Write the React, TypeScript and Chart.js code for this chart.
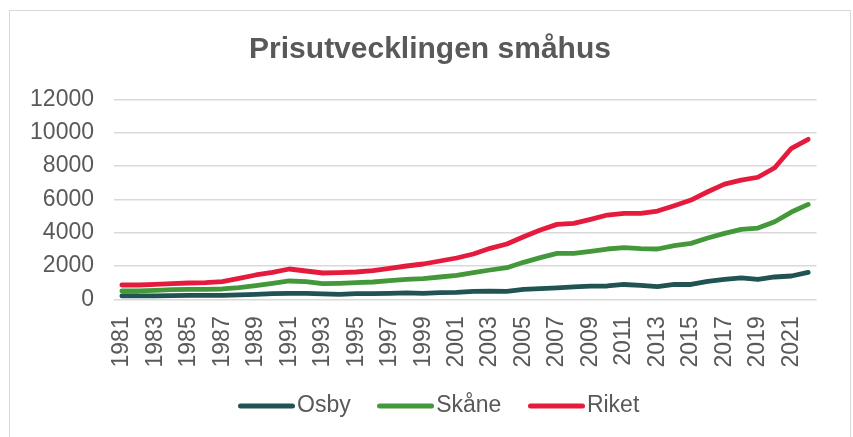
import React, { useEffect, useRef } from "react";
import { Chart, registerables } from "chart.js";

Chart.register(...registerables);

const years: string[] = [
  "1981","1982","1983","1984","1985","1986","1987","1988","1989","1990",
  "1991","1992","1993","1994","1995","1996","1997","1998","1999","2000",
  "2001","2002","2003","2004","2005","2006","2007","2008","2009","2010",
  "2011","2012","2013","2014","2015","2016","2017","2018","2019","2020",
  "2021","2022",
];

const osby: number[] = [
  200, 200, 210, 220, 230, 240, 230, 260, 300, 340,
  360, 360, 320, 300, 340, 340, 360, 380, 360, 400,
  420, 480, 490, 470, 600, 640, 690, 750, 790, 800,
  890, 840, 760, 900, 890, 1080, 1200, 1290, 1190, 1340,
  1400, 1620,
];

const skane: number[] = [
  500, 500, 540, 580, 600, 600, 620, 700, 820, 960,
  1100, 1060, 940, 960, 1000, 1040, 1120, 1200, 1240, 1340,
  1440, 1600, 1760, 1900, 2220, 2500, 2760, 2760, 2880, 3020,
  3100, 3040, 3020, 3220, 3360, 3680, 3960, 4200, 4280, 4660,
  5240, 5700,
];

const riket: number[] = [
  860, 860, 900, 940, 980, 1000, 1060, 1260, 1460, 1620,
  1820, 1700, 1580, 1600, 1640, 1720, 1860, 2000, 2120, 2300,
  2480, 2720, 3060, 3320, 3760, 4160, 4500, 4560, 4800, 5060,
  5160, 5160, 5300, 5620, 5960, 6460, 6920, 7160, 7330, 7900,
  9070, 9610,
];

const seriesNames: string[] = ["Osby", "Skåne", "Riket"];
const seriesColors: string[] = ["#205352", "#43983a", "#e41b3c"];
const titleText = "Prisutvecklingen småhus";

const FONT = "'Liberation Sans', Arial, Helvetica, sans-serif";
const TEXT = "#595959";

function legendLine(color: string): HTMLCanvasElement {
  const c = document.createElement("canvas");
  c.width = 57;
  c.height = 8;
  const g = c.getContext("2d")!;
  g.strokeStyle = color;
  g.lineWidth = 5;
  g.lineCap = "round";
  g.beginPath();
  g.moveTo(2.5, 4);
  g.lineTo(54.5, 4);
  g.stroke();
  return c;
}

export default function App() {
  const ref = useRef<HTMLCanvasElement | null>(null);

  useEffect(() => {
    if (!ref.current) return;
    const data = [osby, skane, riket];
    const shiftLegend = {
      id: "shiftLegend",
      afterLayout(chart: any) {
        const lg = chart.legend;
        if (lg) {
          lg.left += 13.4;
          lg.right += 13.4;
          lg.top -= 9.5;
          lg.bottom -= 9.5;
        }
      },
    };
    const chart = new Chart(ref.current, {
      type: "line",
      data: {
        labels: years,
        datasets: seriesNames.map((name, i) => ({
          label: name,
          data: data[i],
          borderColor: seriesColors[i],
          backgroundColor: seriesColors[i],
          borderWidth: 4.8,
          borderCapStyle: "round",
          borderJoinStyle: "round",
          pointRadius: 0,
          pointHoverRadius: 0,
          pointStyle: legendLine(seriesColors[i]),
          tension: 0,
          fill: false,
        })),
      },
      options: {
        responsive: false,
        animation: false,
        events: [],
        layout: { padding: { left: 25.5, right: 18.5, top: 0, bottom: 0 } },
        plugins: {
          title: {
            display: true,
            text: titleText,
            color: TEXT,
            font: { family: FONT, size: 30, weight: "bold", lineHeight: 1.2 },
            padding: { top: 31.5, bottom: 32 },
          },
          legend: {
            position: "bottom",
            labels: {
              color: TEXT,
              font: { family: FONT, size: 23 },
              usePointStyle: true,
              pointStyleWidth: 38,
              padding: 36,
            },
          },
          tooltip: { enabled: false },
        },
        scales: {
          x: {
            offset: true,
            grid: { display: false, drawTicks: false },
            border: { display: false },
            ticks: {
              autoSkip: false,
              minRotation: 90,
              maxRotation: 90,
              padding: 17,
              color: TEXT,
              font: { family: FONT, size: 23 },
              callback: (_v: any, idx: number) => (idx % 2 === 0 ? years[idx] : ""),
            },
            afterFit: (scale: any) => {
              scale.height = 68.7;
            },
          },
          y: {
            min: 0,
            max: 12000,
            grid: { color: "#d9d9d9", lineWidth: 1.5, drawTicks: false },
            border: { display: false },
            ticks: {
              stepSize: 2000,
              padding: 19.5,
              color: TEXT,
              font: { family: FONT, size: 23 },
              callback: (v: any) => String(v),
            },
            afterFit: (scale: any) => {
              scale.width = 88;
            },
          },
        },
      },
      plugins: [shiftLegend],
    } as any);
    return () => chart.destroy();
  }, []);

  return (
    <div style={{ position: "fixed", left: 0, top: 0, width: 853, height: 437, overflow: "hidden", background: "#fff" }}>
      <div
        style={{
          position: "absolute",
          left: 9,
          top: 10,
          width: 842,
          height: 440,
          border: "1.5px solid #d9d9d9",
          boxSizing: "border-box",
        }}
      />
      <canvas ref={ref} width={853} height={437} style={{ position: "absolute", left: 0, top: 0 }} />
    </div>
  );
}
